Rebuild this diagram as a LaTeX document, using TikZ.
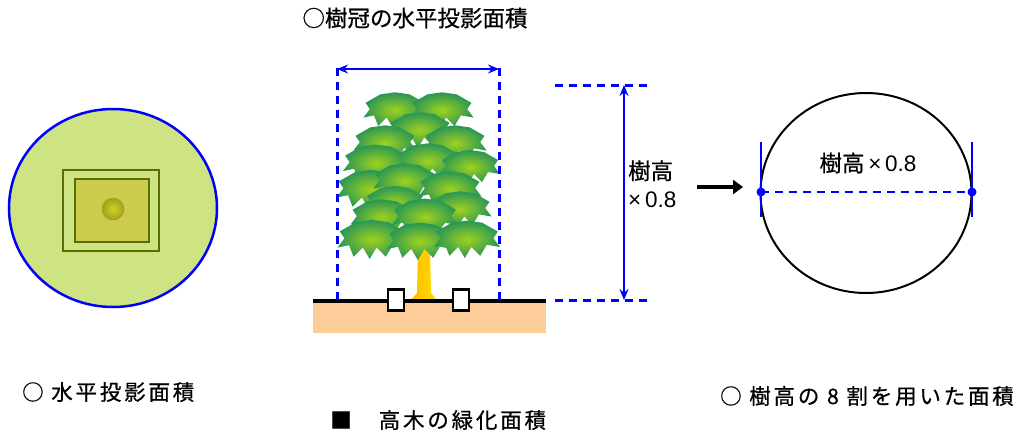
\documentclass[tikz,border=0pt]{standalone}
\usepackage{fontspec}
\setmainfont{Noto Sans CJK JP}
\newfontfamily\lat{Liberation Sans}
\usepackage{tikz}
\usetikzlibrary{arrows.meta,calc}
\definecolor{crownfill}{RGB}{206,228,130}
\definecolor{rootline}{RGB}{88,110,0}
\definecolor{rootfill}{RGB}{204,204,76}
\definecolor{ballfill}{RGB}{190,190,40}
\definecolor{leaflight}{RGB}{160,210,30}
\definecolor{leafdark}{RGB}{40,150,85}
\definecolor{trunk}{RGB}{255,200,0}
\definecolor{soil}{RGB}{252,204,153}
\definecolor{dimblue}{RGB}{0,0,255}
\tikzset{
  label/.style={font=\fontsize{21.5}{28}\selectfont\addfontfeature{LetterSpace=13,FakeBold=0.6}, inner sep=0pt},
  title/.style={font=\fontsize{22.5}{28}\selectfont\addfontfeature{FakeBold=0.6}, inner sep=0pt},
  dimline/.style={dimblue, line width=3pt, dash pattern=on 8pt off 6pt},
  dimarrow/.style={{Stealth[length=11pt,width=9pt]}-{Stealth[length=11pt,width=9pt]}, dimblue, line width=1.7pt},
  bigarrow/.style={-{Triangle[length=10pt,width=14pt]}, line width=4pt, black},
  leaf/.style={inner color=leaflight, outer color=leafdark}
}
\newcommand{\leafclump}[3]{%
  \shade[leaf, shift={(#1,#2)}, scale=#3]
    (-28,-4) -- (-14,-12) -- (0,-14) -- (14,-12) -- (28,-4) -- (24,2)
    -- (30,10) -- (18,8) -- (12,18) -- (4,10) -- (-2,20) -- (-8,10)
    -- (-16,18) -- (-20,8) -- (-30,10) -- (-24,2) -- cycle;}
\begin{document}
\begin{tikzpicture}[x=1pt, y=-1pt]
\useasboundingbox (0,0) rectangle (1028,432);

% plan view
\fill[crownfill] (113,208) ellipse [x radius=104, y radius=99];
\draw[dimblue, line width=2.5pt] (113,208) ellipse [x radius=104, y radius=99];
\draw[rootline, line width=2.2pt] (63,170) rectangle (159,251);
\draw[rootline, line width=2.2pt, fill=rootfill] (75,179) rectangle (149,242);
\shade[inner color=ballfill!70!yellow, outer color=ballfill!85!black, draw=ballfill!80!black]
  (113,209) circle [radius=11];

% tree elevation
\fill[soil] (313,300) rectangle (546,333);
\shade[left color=trunk!80!orange, right color=trunk!60!yellow]
  (410,301) -- (417,293) -- (418,248) -- (430,248) -- (431,293) -- (438,301) -- cycle;
\foreach \x/\y/\s in {395/107/1.05, 442/107/1.05, 420/127/1.05,
  385/140/1.05, 455/140/1.05, 376/160/1.1, 428/158/1.05, 470/164/1,
  371/186/1.15, 405/178/1.05, 450/186/1.05, 395/200/1, 460/206/1.05,
  382/214/1.05, 425/214/1.1, 372/236/1.15, 420/238/1.1, 467/236/1.1}
  \leafclump{\x}{\y}{\s};

\coordinate (gl) at (313,301);
\coordinate (gr) at (546,301);
\draw[black, line width=3.4pt] (gl) -- (gr);
\node[draw=black, line width=2.2pt, fill=white, minimum width=16pt, minimum height=21pt, inner sep=0pt]
  (stakeL) at (396,300) {};
\node[draw=black, line width=2.2pt, fill=white, minimum width=16pt, minimum height=21pt, inner sep=0pt]
  (stakeR) at (461,300) {};

% crown width
\coordinate (cwLtop) at (337,68);
\coordinate (cwLbot) at (337,300);
\coordinate (cwRtop) at (499,68);
\coordinate (cwRbot) at (499,300);
\draw[dimline] (cwLtop) -- (cwLbot);
\draw[dimline] (cwRtop) -- (cwRbot);
\draw[dimarrow] (cwLtop) ++(0,1) coordinate (cwA) -- ($(cwRtop)+(0,1)$) coordinate (cwB);
\node[title] (ttl) at (415,18) {○樹冠の水平投影面積};

% height
\coordinate (htA) at (555,85);
\coordinate (htB) at (648,85);
\coordinate (hbA) at (555,300);
\coordinate (hbB) at (648,300);
\draw[dimline] (htA) -- (htB);
\draw[dimline] (hbA) -- (hbB);
\coordinate (hTop) at (624,85);
\coordinate (hBot) at (624,300);
\draw[dimarrow] (hTop) -- (hBot);
\node[title, anchor=west, align=left] (hlabel) at (628,184) {樹高\\{\lat ×\,0.8}};

\coordinate (arS) at (697,187);
\coordinate (arE) at (743,187);
\draw[bigarrow] (arS) -- (arE);

% area from height
\draw[black, line width=2pt] (866,193) ellipse [x radius=105.5, y radius=100];
\coordinate (dL) at (761,192);
\coordinate (dR) at (972,192);
\draw[dimblue, line width=2.5pt] ($(dL)+(0,-50)$) -- ($(dL)+(0,25)$);
\draw[dimblue, line width=2.5pt] ($(dR)+(0,-50)$) -- ($(dR)+(0,25)$);
\draw[dimline, line width=2.4pt] (dL) -- (dR);
\fill[dimblue] (dL) circle [radius=4.5];
\fill[dimblue] (dR) circle [radius=4.5];
\node[title] (dlabel) at (868,163) {樹高{\lat\,×\,0.8}};

% captions
\node[label, anchor=west] (capL) at (22,392) {○ 水平投影面積};
\node[label, anchor=west] (capM) at (330,420) {■　高木の緑化面積};
\node[label, anchor=west] (capR) at (720,396) {○ 樹高の 8 割を用いた面積};
\end{tikzpicture}
\end{document}
